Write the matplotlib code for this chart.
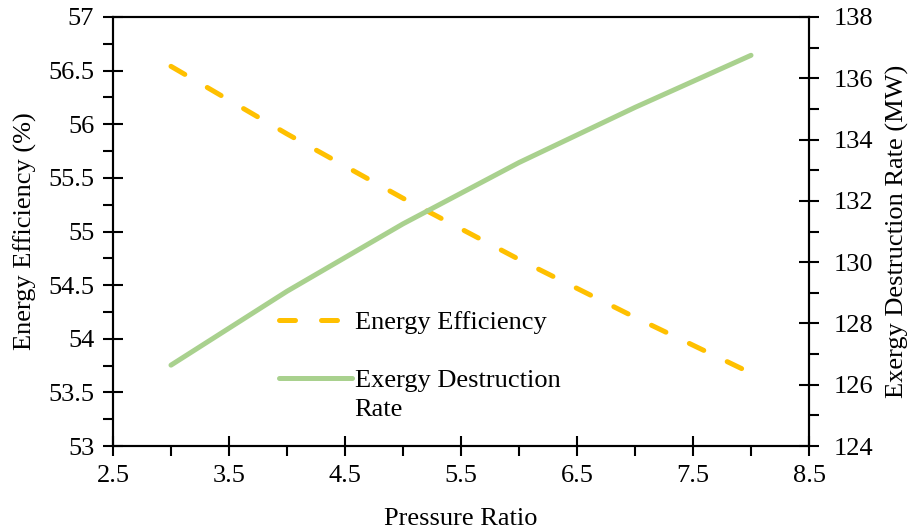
import matplotlib
matplotlib.use("Agg")
import matplotlib.pyplot as plt
import numpy as np
from matplotlib.ticker import MultipleLocator, FuncFormatter
from matplotlib.legend_handler import HandlerLine2D

plt.rcParams['font.family'] = ['Liberation Serif', 'DejaVu Serif']
FS = 19
plt.rcParams['font.size'] = FS

pressure_ratio = [3, 4, 5, 6, 7, 8]
energy_efficiency = [56.54, 55.91, 55.31, 54.74, 54.20, 53.68]
exergy_destruction = [126.64, 129.05, 131.25, 133.25, 135.05, 136.75]

fig = plt.figure(figsize=(9.09, 5.31), dpi=100)
ax = fig.add_axes([0.1243, 0.160, 0.7657, 0.808])
ax2 = ax.twinx()

orange = '#FFC000'
green = '#A9D18E'

l1, = ax.plot(pressure_ratio, energy_efficiency, color=orange, lw=3.6,
              dashes=(3.2, 5.2), dash_capstyle='round', solid_capstyle='round',
              label='Energy Efficiency')
l2, = ax2.plot(pressure_ratio, exergy_destruction, color=green, lw=3.6,
               solid_capstyle='round', label='Exergy Destruction\nRate')

ax.set_xlim(2.5, 8.5)
ax.set_ylim(53, 57)
ax2.set_ylim(124, 138)
ax.xaxis.set_major_locator(MultipleLocator(1, offset=0.5))
ax.xaxis.set_minor_locator(MultipleLocator(0.5))
ax.yaxis.set_major_locator(MultipleLocator(0.5))
ax.yaxis.set_minor_locator(MultipleLocator(0.25))
ax2.yaxis.set_major_locator(MultipleLocator(2))
ax2.yaxis.set_minor_locator(MultipleLocator(1))

fmt = FuncFormatter(lambda v, p: f"{v:g}")
ax.xaxis.set_major_formatter(fmt)
ax.yaxis.set_major_formatter(fmt)
ax2.yaxis.set_major_formatter(fmt)

for a in (ax, ax2):
    for s in a.spines.values():
        s.set_linewidth(1.5)
    a.tick_params(which='major', direction='inout', length=15, width=1.5, pad=6, labelsize=FS)
    a.tick_params(which='minor', direction='out', length=7, width=1.5)
ax2.tick_params(axis='y', which='major', pad=10)

ax.set_xlabel('Pressure Ratio', fontsize=FS, labelpad=15)
ax.set_ylabel('Energy Efficiency (%)', fontsize=FS, labelpad=8)
ax2.set_ylabel('Exergy Destruction Rate (MW)', fontsize=FS, labelpad=9)


class TopHandler(HandlerLine2D):
    def create_artists(self, legend, orig_handle, xdescent, ydescent, width,
                       height, fontsize, trans):
        arts = super().create_artists(legend, orig_handle, xdescent, ydescent,
                                      width, height, fontsize, trans)
        nlines = orig_handle.get_label().count('\n')
        shift = 0.62 * fontsize * nlines
        for a in arts:
            if hasattr(a, 'get_ydata'):
                a.set_ydata(np.asarray(a.get_ydata()) + shift)
        return arts


leg = ax.legend(handles=[l1, l2], loc='upper left', bbox_to_anchor=(0.205, 0.371),
                frameon=False, fontsize=FS, handlelength=2.75, handletextpad=0.1,
                labelspacing=1.35, handler_map={l1: TopHandler(), l2: TopHandler()})
for t in leg.get_texts():
    t.set_linespacing(1.45)

fig.savefig('out.png', dpi=100)
